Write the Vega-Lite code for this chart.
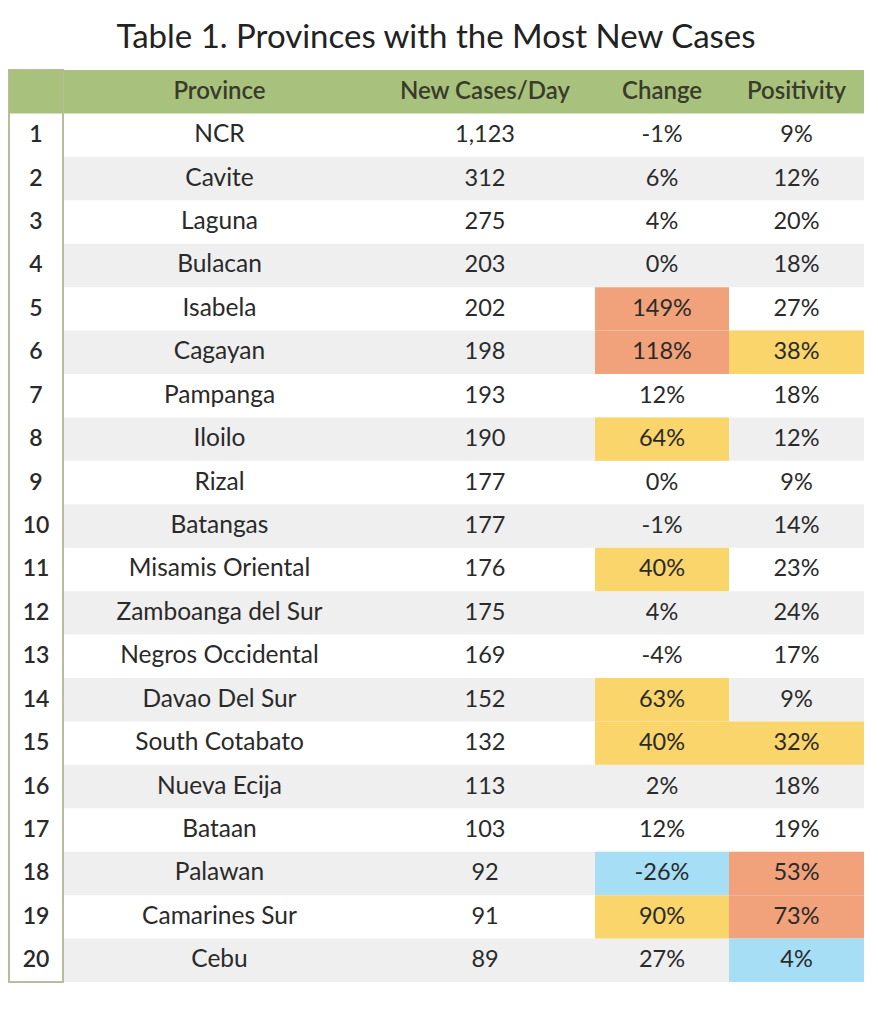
{
  "$schema": "https://vega.github.io/schema/vega-lite/v6.json",
  "padding": {"left": 8, "top": 22, "right": 0, "bottom": 0},
  "background": "white",
  "title": {"text": "Table 1. Provinces with the Most New Cases", "font": "Lato", "fontSize": 33, "fontWeight": "normal", "color": "#222222", "anchor": "middle", "offset": 14},
  "spacing": 0,
  "config": {"view": {"stroke": null}, "concat": {"spacing": 0}, "locale": {"number": {"decimal": ".", "thousands": ",", "grouping": [3], "currency": ["$", ""], "minus": "-"}}},
  "resolve": {"scale": {"fill": "independent"}},
  "datasets": {
    "rows": [
      {"rank": 1, "province": "NCR", "cases": 1123, "change": -0.01, "positivity": 0.09},
      {"rank": 2, "province": "Cavite", "cases": 312, "change": 0.06, "positivity": 0.12},
      {"rank": 3, "province": "Laguna", "cases": 275, "change": 0.04, "positivity": 0.20},
      {"rank": 4, "province": "Bulacan", "cases": 203, "change": 0.00, "positivity": 0.18},
      {"rank": 5, "province": "Isabela", "cases": 202, "change": 1.49, "positivity": 0.27},
      {"rank": 6, "province": "Cagayan", "cases": 198, "change": 1.18, "positivity": 0.38},
      {"rank": 7, "province": "Pampanga", "cases": 193, "change": 0.12, "positivity": 0.18},
      {"rank": 8, "province": "Iloilo", "cases": 190, "change": 0.64, "positivity": 0.12},
      {"rank": 9, "province": "Rizal", "cases": 177, "change": 0.00, "positivity": 0.09},
      {"rank": 10, "province": "Batangas", "cases": 177, "change": -0.01, "positivity": 0.14},
      {"rank": 11, "province": "Misamis Oriental", "cases": 176, "change": 0.40, "positivity": 0.23},
      {"rank": 12, "province": "Zamboanga del Sur", "cases": 175, "change": 0.04, "positivity": 0.24},
      {"rank": 13, "province": "Negros Occidental", "cases": 169, "change": -0.04, "positivity": 0.17},
      {"rank": 14, "province": "Davao Del Sur", "cases": 152, "change": 0.63, "positivity": 0.09},
      {"rank": 15, "province": "South Cotabato", "cases": 132, "change": 0.40, "positivity": 0.32},
      {"rank": 16, "province": "Nueva Ecija", "cases": 113, "change": 0.02, "positivity": 0.18},
      {"rank": 17, "province": "Bataan", "cases": 103, "change": 0.12, "positivity": 0.19},
      {"rank": 18, "province": "Palawan", "cases": 92, "change": -0.26, "positivity": 0.53},
      {"rank": 19, "province": "Camarines Sur", "cases": 91, "change": 0.90, "positivity": 0.73},
      {"rank": 20, "province": "Cebu", "cases": 89, "change": 0.27, "positivity": 0.04}
    ],
    "header": [
      {"rank": 0, "col": "rank", "label": ""},
      {"rank": 0, "col": "province", "label": "Province"},
      {"rank": 0, "col": "cases", "label": "New Cases/Day"},
      {"rank": 0, "col": "change", "label": "Change"},
      {"rank": 0, "col": "positivity", "label": "Positivity"}
    ]
  },
  "hconcat": [
    {
      "width": 54, "height": 912,
      "view": {"stroke": "#b8bd9f", "strokeWidth": 2},
      "data": {"name": "rows"},
      "layer": [
        {"data": {"name": "header"}, "transform": [{"filter": "datum.col == 'rank'"}], "mark": {"type": "rect", "fill": "#a8c27e"},
         "encoding": {"y": {"field": "rank", "type": "ordinal", "scale": {"domain": [0,1,2,3,4,5,6,7,8,9,10,11,12,13,14,15,16,17,18,19,20], "paddingInner": 0, "paddingOuter": 0}, "axis": null}}},
        {"mark": {"type": "text", "font": "Lato", "fontSize": 23, "fontWeight": 600, "color": "#2a2a2a"},
         "encoding": {"y": {"field": "rank", "type": "ordinal", "axis": null}, "text": {"field": "rank", "type": "ordinal"}}}
      ]
    },
    {
      "width": 311, "height": 912,
      "data": {"name": "rows"},
      "layer": [
        {"transform": [{"filter": "datum.rank % 2 == 0"}], "mark": {"type": "rect", "fill": "#efefef"},
         "encoding": {"y": {"field": "rank", "type": "ordinal", "scale": {"domain": [0,1,2,3,4,5,6,7,8,9,10,11,12,13,14,15,16,17,18,19,20], "paddingInner": 0, "paddingOuter": 0}, "axis": null}}},
        {"data": {"name": "header"}, "transform": [{"filter": "datum.col == 'province'"}], "mark": {"type": "rect", "fill": "#a8c27e"},
         "encoding": {"y": {"field": "rank", "type": "ordinal", "axis": null}}},
        {"data": {"name": "header"}, "transform": [{"filter": "datum.col == 'province'"}], "mark": {"type": "text", "font": "Lato", "fontSize": 24, "fontWeight": 600, "color": "#393b2b"},
         "encoding": {"y": {"field": "rank", "type": "ordinal", "axis": null}, "text": {"field": "label"}}},
        {"mark": {"type": "text", "font": "Lato", "fontSize": 24.5, "color": "#2a2a2a"},
         "encoding": {"y": {"field": "rank", "type": "ordinal", "axis": null}, "text": {"field": "province"}}}
      ]
    },
    {
      "width": 220, "height": 912,
      "data": {"name": "rows"},
      "layer": [
        {"transform": [{"filter": "datum.rank % 2 == 0"}], "mark": {"type": "rect", "fill": "#efefef"},
         "encoding": {"y": {"field": "rank", "type": "ordinal", "scale": {"domain": [0,1,2,3,4,5,6,7,8,9,10,11,12,13,14,15,16,17,18,19,20], "paddingInner": 0, "paddingOuter": 0}, "axis": null}}},
        {"data": {"name": "header"}, "transform": [{"filter": "datum.col == 'cases'"}], "mark": {"type": "rect", "fill": "#a8c27e"},
         "encoding": {"y": {"field": "rank", "type": "ordinal", "axis": null}}},
        {"data": {"name": "header"}, "transform": [{"filter": "datum.col == 'cases'"}], "mark": {"type": "text", "font": "Lato", "fontSize": 24, "fontWeight": 600, "color": "#393b2b"},
         "encoding": {"y": {"field": "rank", "type": "ordinal", "axis": null}, "text": {"field": "label"}}},
        {"mark": {"type": "text", "font": "Lato", "fontSize": 23.5, "color": "#2a2a2a"},
         "encoding": {"y": {"field": "rank", "type": "ordinal", "axis": null}, "text": {"field": "cases", "type": "quantitative", "format": ","}}}
      ]
    },
    {
      "width": 134, "height": 912,
      "data": {"name": "rows"},
      "layer": [
        {"transform": [{"filter": "datum.rank % 2 == 0"}], "mark": {"type": "rect", "fill": "#efefef"},
         "encoding": {"y": {"field": "rank", "type": "ordinal", "scale": {"domain": [0,1,2,3,4,5,6,7,8,9,10,11,12,13,14,15,16,17,18,19,20], "paddingInner": 0, "paddingOuter": 0}, "axis": null}}},
        {"mark": {"type": "rect"},
         "encoding": {"y": {"field": "rank", "type": "ordinal", "axis": null},
                      "fill": {"field": "change", "type": "quantitative", "scale": {"type": "threshold", "domain": [-0.2, 0.4, 1.0], "range": ["#a6def5", "rgba(0,0,0,0)", "#fad56b", "#f2a27b"]}, "legend": null}}},
        {"data": {"name": "header"}, "transform": [{"filter": "datum.col == 'change'"}], "mark": {"type": "rect", "fill": "#a8c27e"},
         "encoding": {"y": {"field": "rank", "type": "ordinal", "axis": null}}},
        {"data": {"name": "header"}, "transform": [{"filter": "datum.col == 'change'"}], "mark": {"type": "text", "font": "Lato", "fontSize": 24, "fontWeight": 600, "color": "#393b2b"},
         "encoding": {"y": {"field": "rank", "type": "ordinal", "axis": null}, "text": {"field": "label"}}},
        {"mark": {"type": "text", "font": "Lato", "fontSize": 23.5, "color": "#2a2a2a"},
         "encoding": {"y": {"field": "rank", "type": "ordinal", "axis": null}, "text": {"field": "change", "type": "quantitative", "format": ".0%"}}}
      ]
    },
    {
      "width": 135, "height": 912,
      "data": {"name": "rows"},
      "layer": [
        {"transform": [{"filter": "datum.rank % 2 == 0"}], "mark": {"type": "rect", "fill": "#efefef"},
         "encoding": {"y": {"field": "rank", "type": "ordinal", "scale": {"domain": [0,1,2,3,4,5,6,7,8,9,10,11,12,13,14,15,16,17,18,19,20], "paddingInner": 0, "paddingOuter": 0}, "axis": null}}},
        {"mark": {"type": "rect"},
         "encoding": {"y": {"field": "rank", "type": "ordinal", "axis": null},
                      "fill": {"field": "positivity", "type": "quantitative", "scale": {"type": "threshold", "domain": [0.05, 0.3, 0.5], "range": ["#a6def5", "rgba(0,0,0,0)", "#fad56b", "#f2a27b"]}, "legend": null}}},
        {"data": {"name": "header"}, "transform": [{"filter": "datum.col == 'positivity'"}], "mark": {"type": "rect", "fill": "#a8c27e"},
         "encoding": {"y": {"field": "rank", "type": "ordinal", "axis": null}}},
        {"data": {"name": "header"}, "transform": [{"filter": "datum.col == 'positivity'"}], "mark": {"type": "text", "font": "Lato", "fontSize": 24, "fontWeight": 600, "color": "#393b2b"},
         "encoding": {"y": {"field": "rank", "type": "ordinal", "axis": null}, "text": {"field": "label"}}},
        {"mark": {"type": "text", "font": "Lato", "fontSize": 23.5, "color": "#2a2a2a"},
         "encoding": {"y": {"field": "rank", "type": "ordinal", "axis": null}, "text": {"field": "positivity", "type": "quantitative", "format": ".0%"}}}
      ]
    }
  ]
}
